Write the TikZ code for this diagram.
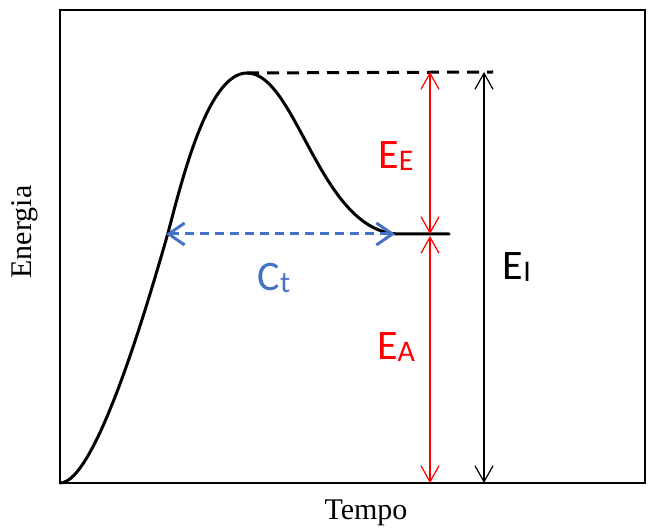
\documentclass[tikz,border=0pt]{standalone}
\usepackage{fontspec}
\setmainfont{Liberation Serif}
\newfontfamily\calib{Carlito}
\usetikzlibrary{arrows.meta}
\definecolor{myblue}{RGB}{68,114,196}
\newcommand{\lbl}[2]{{\calib\fontsize{42}{42}\selectfont #1\raisebox{-2pt}{\fontsize{30}{30}\selectfont #2}}}
\tikzset{
  dimarrow/.style={line width=1.2pt,{Straight Barb[length=16pt,width=18pt]}-{Straight Barb[length=16pt,width=18pt]}},
  blueline/.style={myblue,line width=3pt,dash pattern=on 9pt off 6pt,{Straight Barb[length=16pt,width=22pt]}-{Straight Barb[length=16pt,width=22pt]}},
  curveline/.style={line width=3pt,line cap=round,line join=round},
  axislabel/.style={font=\fontsize{30}{30}\selectfont},
}
\begin{document}
\begin{tikzpicture}[x=1pt,y=-1pt]
\useasboundingbox (0,0) rectangle (648,529);
% frame
\draw[line width=2.2pt] (60,10) rectangle (645,483);
% named points
\coordinate (start) at (60,483);
\coordinate (mid) at (168,233);
\coordinate (peak) at (247,73);
\coordinate (flat) at (400,234);
\coordinate (flatend) at (449,234);
\coordinate (dashend) at (493,72);
\coordinate (eetop) at (430,72);
\coordinate (eebot) at (430,234);
\coordinate (eatop) at (430,236);
\coordinate (eabot) at (430,483);
\coordinate (eitop) at (484,72);
\coordinate (eibot) at (484,483);
\coordinate (ctl) at (166,234);
\coordinate (ctr) at (395,234);
% curve
\draw[curveline] (start) .. controls (95,483) and (146,310) .. (mid)
  .. controls (182,180) and (208,73) .. (peak)
  .. controls (297,73) and (320,234) .. (flat) -- (flatend);
% dashed top line
\draw[line width=3pt,dash pattern=on 12pt off 8pt] (peak) -- (dashend);
% arrows
\draw[dimarrow,red] (eetop) -- (eebot);
\draw[dimarrow,red] (eatop) -- (eabot);
\draw[dimarrow,black] (eitop) -- (eibot);
\draw[blueline] (ctl) -- (ctr);
% labels
\node[red] (ee) at (396,156) {\lbl{E}{E}};
\node[red] (ea) at (396,347) {\lbl{E}{A}};
\node[black] (ei) at (517,267) {\lbl{E}{I}};
\node[myblue] (ct) at (274,278) {\lbl{C}{t}};
\node[axislabel] (tempo) at (366,513) {Tempo};
\node[axislabel,rotate=90] (energia) at (25,232) {Energia};
\end{tikzpicture}
\end{document}
